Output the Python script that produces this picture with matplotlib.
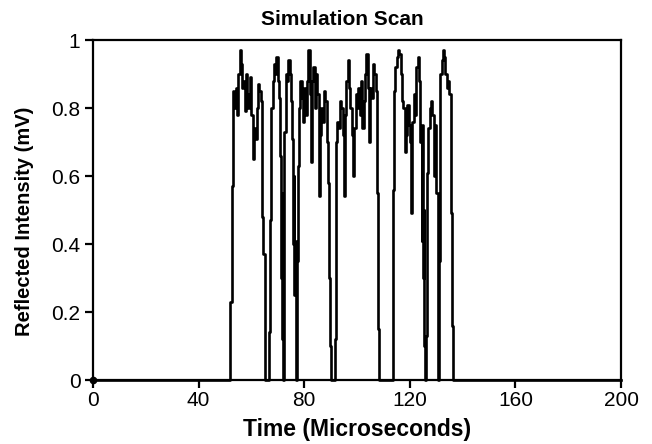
import matplotlib
matplotlib.use("Agg")
import matplotlib.pyplot as plt

# Sample times (microseconds) and reflected intensity (mV), step signal
time_us = [0, 51.5, 52.0, 52.5, 53.0, 53.5, 54.0, 54.5, 55.0, 55.5, 56.0, 56.5, 57.0, 57.5,
           58.0, 58.5, 59.0, 59.5, 60.0, 60.5, 61.0, 61.5, 62.0, 62.5, 63.0, 63.5, 64.0, 64.5,
           65.0, 66.5, 67.0, 67.5, 68.0, 68.5, 69.0, 69.5, 70.0, 70.5, 71.0, 71.25, 71.5, 71.75,
           72.0, 72.25, 72.5, 73.0, 73.5, 74.0, 74.5, 75.0, 75.5, 75.75, 76.0, 76.25, 76.5, 76.75,
           77.0, 77.25, 77.5, 78.0, 78.5, 79.0, 79.5, 80.0, 80.5, 81.0, 81.5, 82.0, 82.5, 83.0,
           83.5, 84.0, 84.5, 85.0, 85.5, 86.0, 86.5, 87.0, 87.5, 88.0, 88.5, 89.0, 89.5, 89.75,
           90.0, 91.75, 92.0, 92.5, 93.0, 93.5, 94.0, 94.5, 95.0, 95.5, 96.0, 96.5, 97.0, 97.5,
           98.0, 98.5, 99.0, 99.5, 100.0, 100.5, 101.0, 101.5, 102.0, 102.5, 103.0, 103.5, 104.0,
           104.5, 105.0, 105.5, 106.0, 106.5, 107.0, 107.5, 108.0, 108.5, 113.5, 114.0, 114.5,
           115.0, 115.5, 116.0, 116.5, 117.0, 117.5, 118.0, 118.5, 119.0, 119.5, 120.0, 120.5,
           121.0, 121.5, 122.0, 122.5, 123.0, 123.5, 124.0, 124.5, 124.75, 125.0, 125.25, 125.5,
           125.75, 126.0, 126.5, 127.0, 127.5, 128.0, 128.5, 129.0, 129.5, 130.0, 130.5, 130.75,
           131.0, 131.5, 132.0, 132.5, 133.0, 133.5, 134.0, 134.5, 135.0, 135.5, 136.0, 136.5, 200]
intensity_mv = [0, 0, 0.23, 0.57, 0.85, 0.80, 0.86, 0.78, 0.90, 0.97, 0.93, 0.86, 0.88, 0.79,
                0.90, 0.80, 0.84, 0.89, 0.78, 0.65, 0.74, 0.71, 0.80, 0.87, 0.85, 0.82, 0.48, 0.37,
                0, 0.14, 0.47, 0.80, 0.88, 0.93, 0.90, 0.95, 0.88, 0.83, 0.66, 0.30, 0.55, 0.12,
                0, 0.20, 0.73, 0.90, 0.88, 0.94, 0.90, 0.82, 0.71, 0.40, 0.60, 0.25, 0.41, 0.10,
                0, 0.35, 0.63, 0.80, 0.88, 0.83, 0.76, 0.86, 0.78, 0.88, 0.97, 0.84, 0.64, 0.88,
                0.92, 0.80, 0.90, 0.84, 0.54, 0.72, 0.80, 0.76, 0.85, 0.82, 0.70, 0.58, 0.30, 0.10,
                0, 0.12, 0.70, 0.76, 0.74, 0.82, 0.80, 0.72, 0.54, 0.78, 0.88, 0.94, 0.86, 0.80,
                0.72, 0.60, 0.74, 0.84, 0.80, 0.86, 0.78, 0.88, 0.74, 0.82, 0.90, 0.96, 0.86,
                0.70, 0.86, 0.83, 0.93, 0.90, 0.85, 0.55, 0.15, 0, 0.56, 0.85, 0.92,
                0.95, 0.97, 0.96, 0.90, 0.82, 0.80, 0.67, 0.72, 0.81, 0.75, 0.70, 0.49,
                0.76, 0.84, 0.78, 0.92, 0.95, 0.88, 0.70, 0.41, 0.75, 0.30, 0.50, 0.10,
                0, 0.13, 0.61, 0.74, 0.80, 0.82, 0.78, 0.60, 0.75, 0.55, 0.35, 0,
                0.35, 0.90, 0.94, 0.97, 0.95, 0.90, 0.86, 0.88, 0.84, 0.49, 0.16, 0, 0]

x_ticks = [0, 40, 80, 120, 160, 200]
y_ticks = [0, 0.2, 0.4, 0.6, 0.8, 1]
y_tick_labels = ["0", "0.2", "0.4", "0.6", "0.8", "1"]

plt.rcParams['font.family'] = ['Liberation Sans', 'DejaVu Sans']

fig = plt.figure(figsize=(6.52, 4.44), dpi=100)
ax = fig.add_axes([0.1426, 0.1441, 0.81, 0.7658])

ax.plot(time_us, intensity_mv, color='black', linewidth=1.9, drawstyle='steps-post',
        clip_on=False, zorder=3)
ax.plot([time_us[0]], [intensity_mv[0]], 'o', color='black', markersize=4.5, clip_on=False, zorder=4)

ax.set_xlim(0, 200)
ax.set_ylim(0, 1)
ax.set_xticks(x_ticks)
ax.set_xticklabels([str(v) for v in x_ticks])
ax.set_yticks(y_ticks)
ax.set_yticklabels(y_tick_labels)
ax.tick_params(axis='both', direction='out', length=6, width=1.6, labelsize=15, colors='black')
ax.tick_params(axis='x', pad=2)
ax.tick_params(axis='y', pad=3)
for s in ax.spines.values():
    s.set_linewidth(1.6)
    s.set_color('black')

ax.set_title("Simulation Scan", fontsize=15, fontweight='bold', pad=11, x=0.473)
ax.set_xlabel("Time (Microseconds)", fontsize=16.5, fontweight='bold', labelpad=6)
ax.set_ylabel("Reflected Intensity (mV)", fontsize=14.5, fontweight='bold')
ax.yaxis.set_label_coords(-0.112, 0.468)

fig.savefig("out.png", dpi=100)
